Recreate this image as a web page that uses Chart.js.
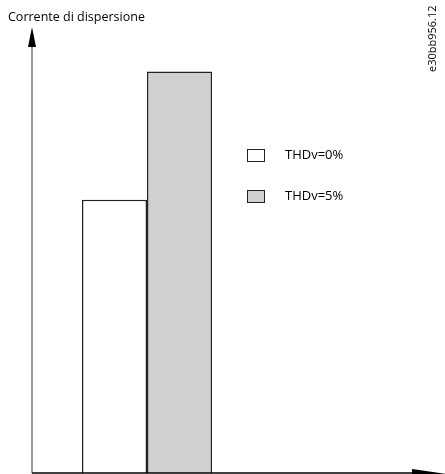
<!DOCTYPE html>
<html>
<head>
<meta charset="utf-8">
<script src="https://cdn.jsdelivr.net/npm/chart.js@4"></script>
<style>
  html, body { margin: 0; padding: 0; background: #fff; }
  #wrap { width: 445px; height: 474px; position: relative; }
</style>
</head>
<body>
<div id="wrap"><canvas id="leakage-chart"></canvas></div>
<script>
// data (arbitrary units, no ticks shown)
const categories = ['Corrente'];
const seriesLabels = ['THDv=0%', 'THDv=5%'];
const thd0Values = [6.4];
const thd5Values = [9.4];
const yMax = 10;

const axisTitle = 'Corrente di dispersione';
const docCode = 'e30bb956.12';
const font = '"Open Sans", "DejaVu Sans", sans-serif';

// draws the arrowed axes, the title, the side code and the legend
const decorPlugin = {
    id: 'decor',
    afterDraw(chart) {
        let ctx = chart.ctx;
        let area = chart.chartArea;
        ctx.save();

        // y axis with arrow
        ctx.strokeStyle = '#777';
        ctx.lineWidth = 1.5;
        ctx.beginPath();
        ctx.moveTo(area.left, area.bottom);
        ctx.lineTo(area.left, area.top);
        ctx.stroke();
        ctx.fillStyle = '#000';
        ctx.beginPath();
        ctx.moveTo(area.left, area.top - 19);
        ctx.lineTo(area.left - 4, area.top + 1);
        ctx.lineTo(area.left + 4, area.top + 1);
        ctx.closePath();
        ctx.fill();

        // x axis with arrow (runs off the bottom edge like the original)
        ctx.strokeStyle = '#000';
        ctx.lineWidth = 1.5;
        ctx.beginPath();
        ctx.moveTo(area.left, area.bottom);
        ctx.lineTo(415, area.bottom);
        ctx.stroke();
        ctx.beginPath();
        ctx.moveTo(446, area.bottom + 1);
        ctx.lineTo(412, area.bottom - 4);
        ctx.lineTo(412, area.bottom + 6);
        ctx.closePath();
        ctx.fill();

        // title over the y axis
        ctx.fillStyle = '#000';
        ctx.font = '12.5px ' + font;
        ctx.textBaseline = 'middle';
        ctx.textAlign = 'left';
        ctx.fillText(axisTitle, 8, 17);

        // rotated code at the right
        ctx.save();
        ctx.translate(433, 72);
        ctx.rotate(-Math.PI / 2);
        ctx.font = '11px ' + font;
        ctx.fillText(docCode, 0, 0);
        ctx.restore();

        // legend
        let rows = [155, 196];
        chart.data.datasets.forEach((ds, i) => {
            ctx.fillStyle = ds.backgroundColor;
            ctx.fillRect(247, rows[i] - 6, 17, 12);
            ctx.strokeStyle = '#222';
            ctx.lineWidth = 1;
            ctx.strokeRect(247.5, rows[i] - 5.5, 17, 12);
            ctx.fillStyle = '#000';
            ctx.font = '13px ' + font;
            ctx.fillText(ds.label, 285, rows[i]);
        });

        ctx.restore();
    }
};

new Chart(document.getElementById('leakage-chart'), {
    type: 'bar',
    data: {
        labels: categories,
        datasets: [{
            label: seriesLabels[0],
            data: thd0Values,
            backgroundColor: '#ffffff',
            borderColor: '#222',
            borderWidth: 1.5,
            borderSkipped: 'bottom'
        }, {
            label: seriesLabels[1],
            data: thd5Values,
            backgroundColor: '#d0d0d0',
            borderColor: '#222',
            borderWidth: 1.5,
            borderSkipped: 'bottom'
        }]
    },
    options: {
        responsive: true,
        maintainAspectRatio: false,
        animation: false,
        categoryPercentage: 0.5652,
        barPercentage: 1,
        layout: { padding: { left: 32, top: 46, right: 183, bottom: 1 } },
        plugins: { legend: { display: false }, tooltip: { enabled: false } },
        scales: {
            x: { display: false },
            y: { display: false, min: 0, max: yMax }
        }
    },
    plugins: [decorPlugin]
});
</script>
</body>
</html>
